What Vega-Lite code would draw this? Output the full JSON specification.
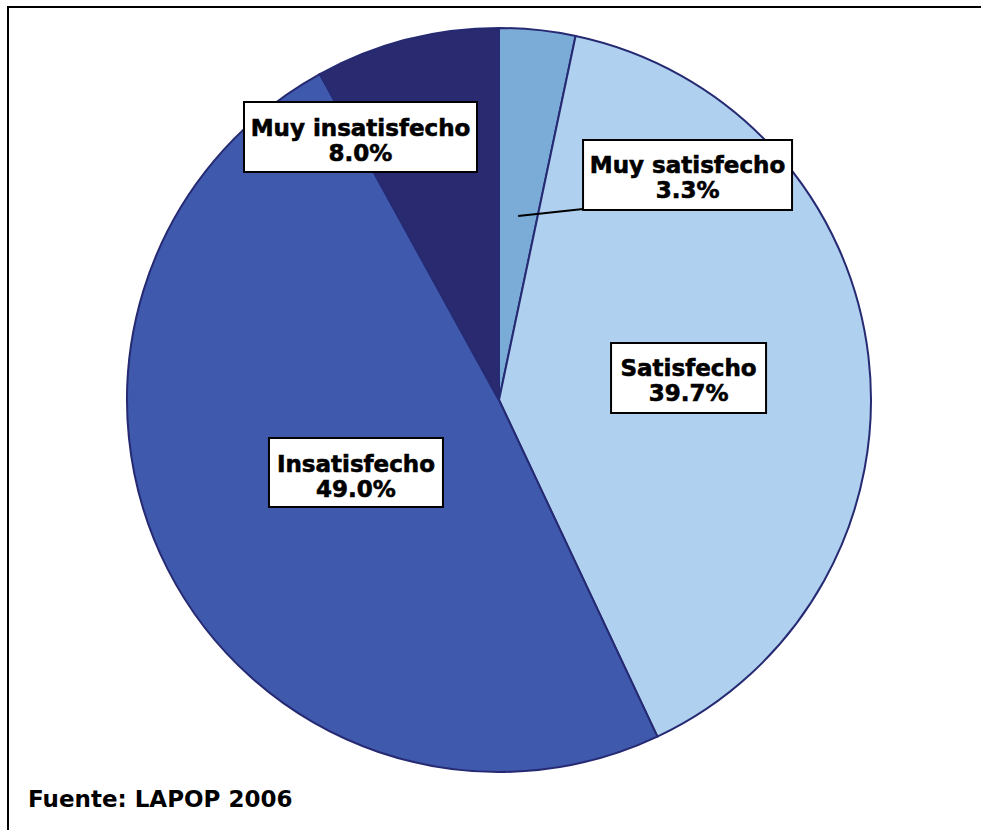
{
  "$schema": "https://vega.github.io/schema/vega-lite/v6.json",
  "autosize": {"type": "fit", "contains": "padding"},
  "width": 981,
  "height": 830,
  "padding": {"left": 8, "top": 7, "right": -10, "bottom": -10},
  "background": "white",
  "config": {"view": {"stroke": "black", "strokeWidth": 2}},
  "title": {
    "text": "Fuente: LAPOP 2006",
    "orient": "bottom",
    "anchor": "start",
    "frame": "group",
    "offset": -33,
    "dx": 20,
    "baseline": "alphabetic",
    "font": "DejaVu Sans",
    "fontSize": 23,
    "fontWeight": "bold",
    "color": "black"
  },
  "data": {
    "values": [
      {"categoria": "Muy satisfecho", "valor": 3.3, "orden": 1},
      {"categoria": "Satisfecho", "valor": 39.7, "orden": 2},
      {"categoria": "Insatisfecho", "valor": 49.0, "orden": 3},
      {"categoria": "Muy insatisfecho", "valor": 8.0, "orden": 4}
    ]
  },
  "transform": [
    {"joinaggregate": [{"op": "sum", "field": "valor", "as": "total"}]},
    {"window": [{"op": "sum", "field": "valor", "as": "acum"}], "sort": [{"field": "orden"}], "frame": [null, 0]},
    {"calculate": "2*PI*(datum.acum - datum.valor/2)/datum.total", "as": "ang"},
    {"calculate": "185*sin(datum.ang)", "as": "ax"},
    {"calculate": "185*cos(datum.ang)", "as": "ay"},
    {"calculate": "datum.categoria + '\\n' + format(datum.valor, '.1f') + '%'", "as": "etiqueta"}
  ],
  "encoding": {
    "x": {"field": "ax", "type": "quantitative", "scale": {"domain": [-491, 492], "nice": false, "zero": false}, "axis": null},
    "y": {"field": "ay", "type": "quantitative", "scale": {"domain": [-440, 393], "nice": false, "zero": false}, "axis": null}
  },
  "layer": [
    {
      "mark": {"type": "arc", "outerRadius": 372, "stroke": "#262A72", "strokeWidth": 2},
      "encoding": {
        "x": {"datum": 0, "type": "quantitative"},
        "y": {"datum": 0, "type": "quantitative"},
        "theta": {"field": "valor", "type": "quantitative", "stack": true},
        "order": {"field": "orden", "type": "quantitative"},
        "color": {
          "field": "categoria",
          "type": "nominal",
          "scale": {
            "domain": ["Muy satisfecho", "Satisfecho", "Insatisfecho", "Muy insatisfecho"],
            "range": ["#7BABD7", "#AFD0EE", "#3F59AD", "#292A6F"]
          },
          "legend": null
        }
      }
    },
    {
      "transform": [{"filter": "datum.categoria == 'Muy satisfecho'"}],
      "mark": {"type": "rule", "color": "black", "strokeWidth": 2, "x2Offset": 65, "y2Offset": -7},
      "encoding": {"x2": {"field": "ax"}, "y2": {"field": "ay"}}
    },
    {
      "transform": [{"filter": "datum.categoria == 'Muy satisfecho'"}],
      "mark": {"type": "point", "shape": "M-1,-0.335H1V0.335H-1Z", "size": 43681, "filled": true, "fill": "white", "stroke": "black", "strokeWidth": 2, "opacity": 1, "xOffset": 169.4, "yOffset": -41}
    },
    {
      "transform": [{"filter": "datum.categoria == 'Satisfecho'"}],
      "mark": {"type": "point", "shape": "M-1,-0.4516H1V0.4516H-1Z", "size": 24025, "filled": true, "fill": "white", "stroke": "black", "strokeWidth": 2, "opacity": 1, "xOffset": 5.8, "yOffset": -0.5}
    },
    {
      "transform": [{"filter": "datum.categoria == 'Insatisfecho'"}],
      "mark": {"type": "point", "shape": "M-1,-0.3966H1V0.3966H-1Z", "size": 30276, "filled": true, "fill": "white", "stroke": "black", "strokeWidth": 2, "opacity": 1, "xOffset": 21.8, "yOffset": -11.5}
    },
    {
      "transform": [{"filter": "datum.categoria == 'Muy insatisfecho'"}],
      "mark": {"type": "point", "shape": "M-1,-0.3004H1V0.3004H-1Z", "size": 54289, "filled": true, "fill": "white", "stroke": "black", "strokeWidth": 2, "opacity": 1, "xOffset": -92.5, "yOffset": -83.8}
    },
    {
      "transform": [{"filter": "datum.categoria == 'Muy satisfecho'"}],
      "mark": {"type": "text", "font": "DejaVu Sans", "fontSize": 23, "fontWeight": "bold", "fill": "black", "stroke": "black", "strokeWidth": 0.6, "lineBreak": "\n", "lineHeight": 25, "align": "center", "baseline": "middle", "dx": 169.4, "dy": -50},
      "encoding": {"text": {"field": "etiqueta"}}
    },
    {
      "transform": [{"filter": "datum.categoria == 'Satisfecho'"}],
      "mark": {"type": "text", "font": "DejaVu Sans", "fontSize": 23, "fontWeight": "bold", "fill": "black", "stroke": "black", "strokeWidth": 0.6, "lineBreak": "\n", "lineHeight": 25, "align": "center", "baseline": "middle", "dx": 5.8, "dy": -10},
      "encoding": {"text": {"field": "etiqueta"}}
    },
    {
      "transform": [{"filter": "datum.categoria == 'Insatisfecho'"}],
      "mark": {"type": "text", "font": "DejaVu Sans", "fontSize": 23, "fontWeight": "bold", "fill": "black", "stroke": "black", "strokeWidth": 0.6, "lineBreak": "\n", "lineHeight": 25, "align": "center", "baseline": "middle", "dx": 21.8, "dy": -19},
      "encoding": {"text": {"field": "etiqueta"}}
    },
    {
      "transform": [{"filter": "datum.categoria == 'Muy insatisfecho'"}],
      "mark": {"type": "text", "font": "DejaVu Sans", "fontSize": 23, "fontWeight": "bold", "fill": "black", "stroke": "black", "strokeWidth": 0.6, "lineBreak": "\n", "lineHeight": 25, "align": "center", "baseline": "middle", "dx": -92.5, "dy": -92},
      "encoding": {"text": {"field": "etiqueta"}}
    }
  ]
}
